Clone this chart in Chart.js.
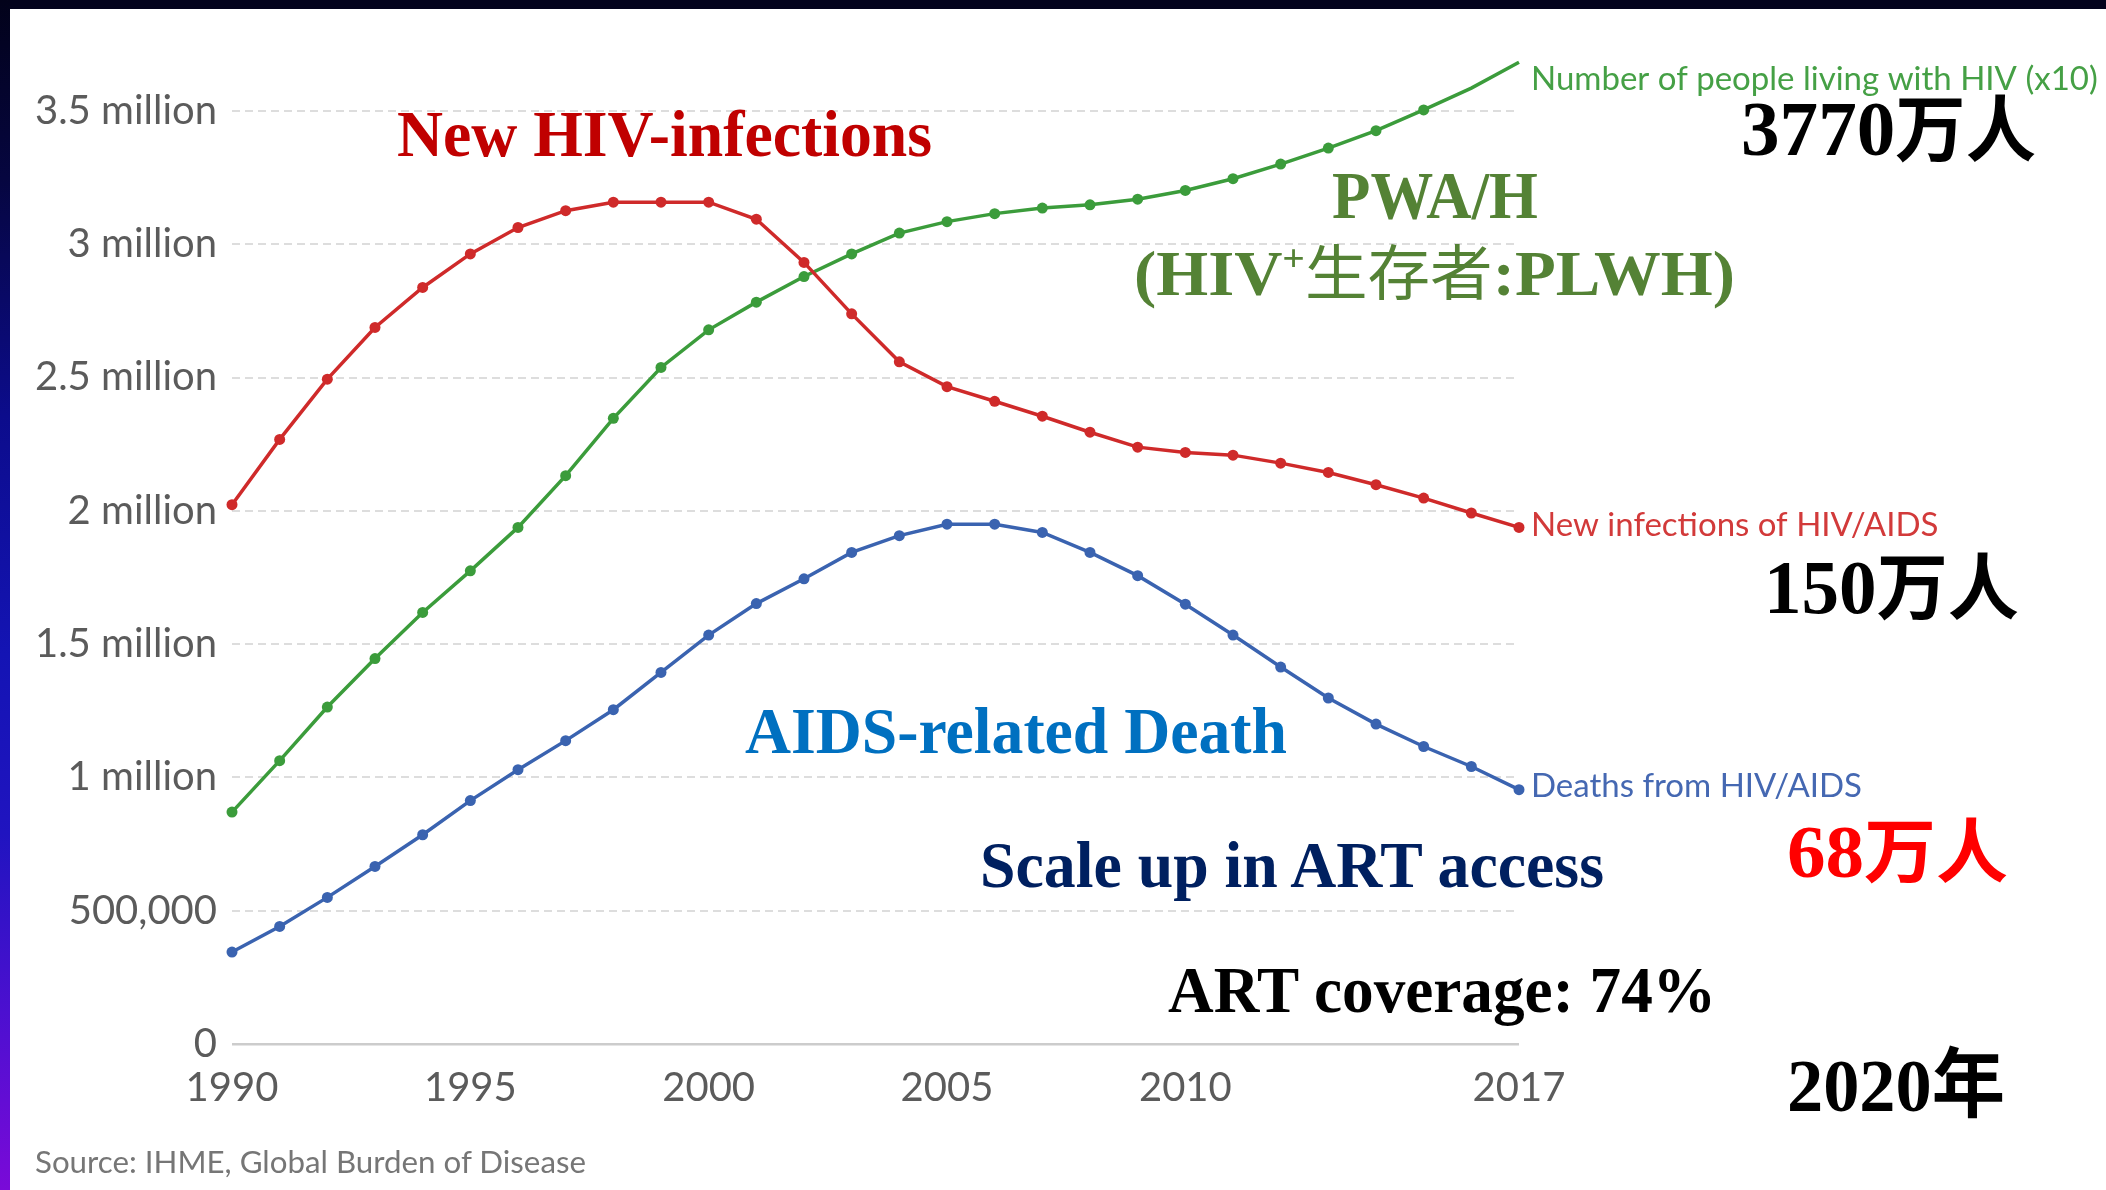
<!DOCTYPE html>
<html>
<head>
<meta charset="utf-8">
<script src="https://cdn.jsdelivr.net/npm/chart.js@4.4.0/dist/chart.umd.min.js"></script>
<style>
html,body{margin:0;padding:0;background:#ffffff;width:2106px;height:1190px;overflow:hidden;}
#topbar{position:absolute;left:0;top:0;width:2106px;height:9px;background:#03031c;}
#leftbar{position:absolute;left:0;top:0;width:10px;height:1190px;
  background:linear-gradient(to bottom,#02021a 0%,#060640 15%,#0c0c8c 35%,#1414b4 55%,#2014c0 70%,#4c10d0 85%,#7a0ad8 100%);}
#c{position:absolute;left:0;top:0;}
#ann{position:absolute;left:0;top:0;}
</style>
</head>
<body>
<canvas id="c" width="2106" height="1190"></canvas>
<div id="topbar"></div>
<div id="leftbar"></div>
<svg id="ann" width="2106" height="1190" xmlns="http://www.w3.org/2000/svg">
  <g font-family="'Liberation Serif','Times New Roman',serif" font-weight="bold">
    <text x="397" y="156" font-size="66" fill="#c00000" textLength="535" lengthAdjust="spacingAndGlyphs">New HIV-infections</text>
    <text x="1332" y="218" font-size="67" fill="#548235" textLength="206" lengthAdjust="spacingAndGlyphs">PWA/H</text>
    <text x="1134" y="295" font-size="64" fill="#548235" textLength="601" lengthAdjust="spacingAndGlyphs">(HIV<tspan font-size="38" dy="-24">+</tspan><tspan dy="24" font-family="'Noto Sans CJK SC'" font-weight="normal" font-size="60">生存者</tspan>:PLWH)</text>
    <text x="1741" y="155" font-size="79" fill="#000000" textLength="295" lengthAdjust="spacingAndGlyphs">3770<tspan font-family="'Noto Sans CJK SC'" font-size="72">万人</tspan></text>
    <text x="1764" y="613" font-size="76" fill="#000000" textLength="255" lengthAdjust="spacingAndGlyphs">150<tspan font-family="'Noto Sans CJK SC'" font-size="72">万人</tspan></text>
    <text x="745" y="753" font-size="65" fill="#0070c0" textLength="542" lengthAdjust="spacingAndGlyphs">AIDS-related Death</text>
    <text x="980" y="887" font-size="65" fill="#002060" textLength="624" lengthAdjust="spacingAndGlyphs">Scale up in ART access</text>
    <text x="1787" y="877" font-size="75" fill="#ff0000" textLength="221" lengthAdjust="spacingAndGlyphs">68<tspan font-family="'Noto Sans CJK SC'" font-size="70">万人</tspan></text>
    <text x="1168" y="1012" font-size="65" fill="#000000" textLength="548" lengthAdjust="spacingAndGlyphs">ART coverage: 74%</text>
    <text x="1787" y="1111" font-size="75" fill="#000000" textLength="218" lengthAdjust="spacingAndGlyphs">2020<tspan font-family="'Noto Sans CJK SC'" font-size="76">年</tspan></text>
  </g>
  <text x="35" y="1173" font-family="Lato,'Open Sans',sans-serif" font-size="30" fill="#767676" textLength="551" lengthAdjust="spacingAndGlyphs">Source: IHME, Global Burden of Disease</text>
</svg>
<script>
// ---- data (values in millions; PLWH series is shown divided by 10) ----
const years = ['1990','1991','1992','1993','1994','1995','1996','1997','1998','1999','2000','2001','2002','2003','2004','2005','2006','2007','2008','2009','2010','2011','2012','2013','2014','2015','2016','2017'];
const newInfections = [2.023,2.268,2.494,2.688,2.838,2.964,3.063,3.126,3.158,3.158,3.158,3.094,2.932,2.739,2.559,2.466,2.411,2.355,2.295,2.239,2.219,2.209,2.179,2.144,2.098,2.048,1.992,1.938];
const peopleLivingX10 = [0.870,1.063,1.264,1.446,1.619,1.775,1.938,2.132,2.347,2.538,2.679,2.783,2.879,2.964,3.042,3.085,3.115,3.136,3.148,3.169,3.202,3.246,3.301,3.361,3.426,3.504,3.586,3.683];
const deaths = [0.345,0.441,0.550,0.666,0.785,0.913,1.029,1.138,1.254,1.394,1.534,1.652,1.745,1.844,1.907,1.950,1.950,1.919,1.844,1.757,1.650,1.534,1.414,1.298,1.200,1.116,1.041,0.954];
const seriesNames = ['New infections of HIV/AIDS','Number of people living with HIV (x10)','Deaths from HIV/AIDS'];
const xTickYears = ['1990','1995','2000','2005','2010','2017'];
const yTickLabels = ['0','500,000','1 million','1.5 million','2 million','2.5 million','3 million','3.5 million'];

// ---- styles ----
const colors = {red:'#cf2a2a', green:'#3b9c3b', blue:'#3a63b0'};
const labelColors = {red:'#d23a3a', green:'#45a045', blue:'#4568b2'};
const labelDy = {red:-2, green:17, blue:-3};

function ds(label, data, key){
  return {
    label, data, key,
    borderColor: colors[key], backgroundColor: colors[key],
    pointBackgroundColor: colors[key], pointBorderWidth: 0,
    pointRadius: 5.5, borderWidth: 3.5, tension: 0, clip: false
  };
}

const endLabels = {
  id: 'endLabels',
  afterDatasetsDraw(chart){
    const ctx = chart.ctx;
    chart.data.datasets.forEach((d, i) => {
      const meta = chart.getDatasetMeta(i);
      const pt = meta.data[meta.data.length - 1];
      ctx.save();
      ctx.font = '33px Lato';
      ctx.fillStyle = labelColors[d.key];
      ctx.textBaseline = 'middle';
      ctx.textAlign = 'left';
      ctx.fillText(d.label, pt.x + 12, pt.y + labelDy[d.key]);
      ctx.restore();
    });
  }
};

new Chart(document.getElementById('c'), {
  type: 'line',
  data: {
    labels: years,
    datasets: [
      ds(seriesNames[0], newInfections, 'red'),
      ds(seriesNames[1], peopleLivingX10, 'green'),
      ds(seriesNames[2], deaths, 'blue')
    ]
  },
  options: {
    responsive: false,
    devicePixelRatio: 1,
    animation: false,
    layout: {padding: {left: 0, top: 111, right: 587, bottom: 0}},
    plugins: {legend: {display: false}, tooltip: {enabled: false}},
    scales: {
      x: {
        offset: false,
        grid: {display: false, drawTicks: false},
        border: {display: false},
        ticks: {
          autoSkip: false, maxRotation: 0, padding: 20,
          color: '#5b5b5b', font: {family: 'Lato', size: 40},
          callback: function(v){ const l = this.getLabelForValue(v); return xTickYears.includes(l) ? l : ''; }
        },
        afterFit: s => { s.height = 146; }
      },
      y: {
        min: 0, max: 3.5,
        grid: {
          drawTicks: false,
          color: c => (c.tick && c.tick.value === 0) ? '#cccccc' : '#dddddd',
          lineWidth: c => (c.tick && c.tick.value === 0) ? 2.5 : 2
        },
        border: {display: false, dash: c => (c.tick && c.tick.value === 0) ? [] : [8, 5]},
        ticks: {
          stepSize: 0.5, padding: 15,
          color: '#5b5b5b', font: {family: 'Lato', size: 40},
          callback: v => yTickLabels[Math.round(v / 0.5)]
        },
        afterFit: s => { s.width = 232; }
      }
    }
  },
  plugins: [endLabels]
});
</script>
</body>
</html>
